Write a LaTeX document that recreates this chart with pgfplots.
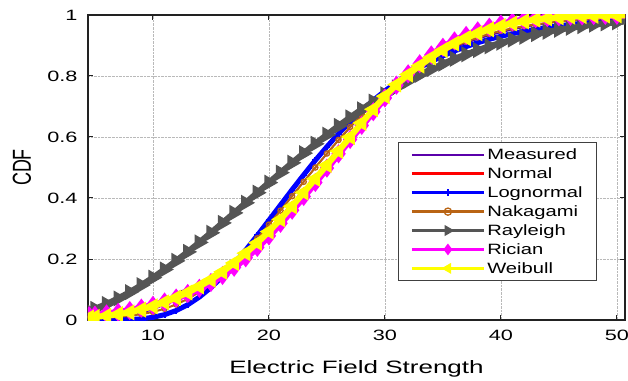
\documentclass[border=0pt]{standalone}
\usepackage{pgfplots}
\pgfplotsset{compat=1.18}
\usepackage{pgfplotstable}
\usepackage{graphicx}
\usepackage{fontspec}
\setmainfont{Liberation Sans}

\definecolor{cMeas}{RGB}{90,0,170}
\definecolor{cRed}{RGB}{255,0,0}
\definecolor{cBlue}{RGB}{0,0,255}
\definecolor{cNaka}{RGB}{185,100,20}
\definecolor{cRay}{RGB}{85,85,85}
\definecolor{cMag}{RGB}{255,0,255}
\definecolor{cYel}{RGB}{255,255,0}
\definecolor{cFrame}{RGB}{34,34,34}

\newcommand{\hs}[1]{\scalebox{1.45}[1]{#1}}
\newcommand{\ls}[1]{\scalebox{1.35}[1]{#1}}

\pgfplotstableread{
x meas norm logn naka rayl rici weib
4.5 0.003 0.0070 0.0000 0.0047 0.0299 0.0140 0.0080
5 0.004 0.0090 0.0000 0.0055 0.0367 0.0160 0.0100
6 0.006 0.0130 0.0001 0.0075 0.0525 0.0200 0.0140
7 0.010 0.0180 0.0004 0.0101 0.0707 0.0250 0.0190
8 0.016 0.0240 0.0014 0.0138 0.0914 0.0310 0.0250
9 0.024 0.0330 0.0038 0.0190 0.1142 0.0390 0.0340
10 0.034 0.0440 0.0088 0.0264 0.1390 0.0480 0.0450
11 0.050 0.0570 0.0175 0.0368 0.1657 0.0590 0.0580
12 0.090 0.0720 0.0310 0.0509 0.1939 0.0720 0.0730
13 0.102 0.0890 0.0500 0.0690 0.2235 0.0870 0.0900
14 0.106 0.1090 0.0751 0.0918 0.2543 0.1040 0.1100
15 0.122 0.1310 0.1062 0.1190 0.2860 0.1230 0.1320
16 0.152 0.1570 0.1428 0.1508 0.3184 0.1460 0.1580
17 0.190 0.1860 0.1843 0.1866 0.3512 0.1730 0.1870
18 0.230 0.2180 0.2294 0.2258 0.3843 0.2040 0.2190
19 0.272 0.2520 0.2774 0.2681 0.4175 0.2380 0.2530
20 0.316 0.2890 0.3271 0.3128 0.4505 0.2760 0.2900
21 0.361 0.3290 0.3773 0.3588 0.4832 0.3170 0.3300
22 0.407 0.3720 0.4274 0.4059 0.5155 0.3600 0.3730
23 0.454 0.4170 0.4761 0.4531 0.5470 0.4050 0.4180
24 0.500 0.4620 0.5234 0.5000 0.5778 0.4510 0.4630
25 0.545 0.5070 0.5683 0.5459 0.6077 0.4980 0.5080
26 0.589 0.5530 0.6106 0.5903 0.6365 0.5450 0.5540
27 0.631 0.5990 0.6502 0.6329 0.6642 0.5920 0.6000
28 0.671 0.6450 0.6869 0.6734 0.6908 0.6380 0.6460
29 0.709 0.6900 0.7205 0.7111 0.7161 0.6830 0.6910
30 0.744 0.7330 0.7512 0.7462 0.7401 0.7280 0.7340
31 0.776 0.7710 0.7792 0.7786 0.7627 0.7700 0.7720
32 0.805 0.8040 0.8044 0.8078 0.7841 0.8070 0.8050
33 0.831 0.8330 0.8271 0.8342 0.8041 0.8400 0.8340
34 0.854 0.8600 0.8476 0.8579 0.8228 0.8690 0.8608
35 0.874 0.8840 0.8657 0.8787 0.8402 0.8940 0.8850
36 0.892 0.9050 0.8820 0.8970 0.8563 0.9150 0.9063
37 0.908 0.9240 0.8963 0.9128 0.8712 0.9330 0.9245
38 0.921 0.9395 0.9091 0.9265 0.8849 0.9480 0.9401
39 0.933 0.9525 0.9203 0.9382 0.8974 0.9600 0.9531
40 0.943 0.9630 0.9302 0.9481 0.9089 0.9700 0.9637
41 0.952 0.9720 0.9390 0.9565 0.9193 0.9775 0.9724
42 0.960 0.9790 0.9466 0.9634 0.9287 0.9835 0.9793
43 0.967 0.9845 0.9534 0.9693 0.9372 0.9880 0.9847
44 0.973 0.9887 0.9593 0.9742 0.9449 0.9915 0.9889
45 0.978 0.9920 0.9644 0.9783 0.9518 0.9940 0.9921
46 0.982 0.9943 0.9690 0.9817 0.9579 0.9958 0.9944
47 0.986 0.9960 0.9729 0.9844 0.9634 0.9971 0.9961
48 0.989 0.9973 0.9764 0.9868 0.9682 0.9980 0.9974
49 0.992 0.9981 0.9794 0.9887 0.9725 0.9987 0.9982
50 0.995 0.9988 0.9820 0.9904 0.9763 0.9991 0.9989
51 0.997 0.9992 0.9843 0.9917 0.9796 0.9994 0.9993
}\cdf

\begin{document}
\begin{tikzpicture}
\useasboundingbox (-88bp,-61bp) rectangle (540bp,320bp);
\begin{axis}[
  at={(0,0)}, anchor=south west,
  scale only axis, width=537bp, height=305bp,
  xmin=4.4, xmax=50.7, ymin=0, ymax=1,
  xtick={10,20,30,40,50},
  xticklabels={\hs{10},\hs{20},\hs{30},\hs{40},\hs{50}},
  ytick={0,0.2,0.4,0.6,0.8,1},
  yticklabels={\hs{0},\hs{0.2},\hs{0.4},\hs{0.6},\hs{0.8},\hs{1}},
  tick label style={font=\fontsize{15}{18}\selectfont},
  xticklabel style={yshift=-7bp},
  yticklabel style={xshift=-7bp},
  major tick length=5bp,
  tick style={cFrame, line width=1bp},
  tick align=inside,
  grid=major,
  major grid style={densely dotted, gray!55, line width=0.7bp},
  axis line style={cFrame, line width=1.3bp},
  clip marker paths=true,
  xlabel={\hs{Electric Field Strength}},
  ylabel={\scalebox{1}[1.45]{CDF}},
  label style={font=\fontsize{18}{21}\selectfont},
  xlabel style={at={(axis description cs:0.5,-0.1610)}, anchor=center},
  ylabel style={at={(axis description cs:-0.1229,0.5)}, anchor=center},
  legend cell align=left,
  legend style={at={(0.948,0.128)}, anchor=south east, draw=black!75,
    line width=0.9bp, fill=white, font=\fontsize{15}{17}\selectfont,
    inner xsep=12bp, inner ysep=4bp, row sep=2.6bp},
  legend image code/.code={\draw[mark repeat=2,mark phase=2,#1,line width=2.8bp,mark size=3.6bp] plot coordinates {(0bp,0bp) (36bp,0bp) (72bp,0bp)};},
]
\addplot[cMeas, line width=1.5bp, no marks] table[x=x,y=meas]{\cdf};
\addlegendentry{\ls{Measured}}
\addplot[cRed, line width=3.5bp, no marks] table[x=x,y=norm]{\cdf};
\addlegendentry{\ls{Normal}}
\addplot[cBlue, line width=5bp, mark=+, mark size=3bp, mark options={line width=2bp}] table[x=x,y=logn]{\cdf};
\addlegendentry{\ls{Lognormal}}
\addplot[cNaka, line width=2bp, mark=o, mark size=2.6bp, mark options={line width=1.3bp}] table[x=x,y=naka]{\cdf};
\addlegendentry{\ls{Nakagami}}
\addplot[cRay, line width=6bp, mark=triangle*, mark size=3.3bp, mark options={rotate=-90}] table[x=x,y=rayl]{\cdf};
\addlegendentry{\ls{Rayleigh}}
\addplot[cMag, line width=7bp, mark=diamond*, mark size=3.8bp] table[x=x,y=rici]{\cdf};
\addlegendentry{\ls{Rician}}
\addplot[cYel, line width=6bp, mark=triangle*, mark size=3.3bp, mark options={rotate=90}] table[x=x,y=weib]{\cdf};
\addlegendentry{\ls{Weibull}}
\end{axis}
\end{tikzpicture}
\end{document}
